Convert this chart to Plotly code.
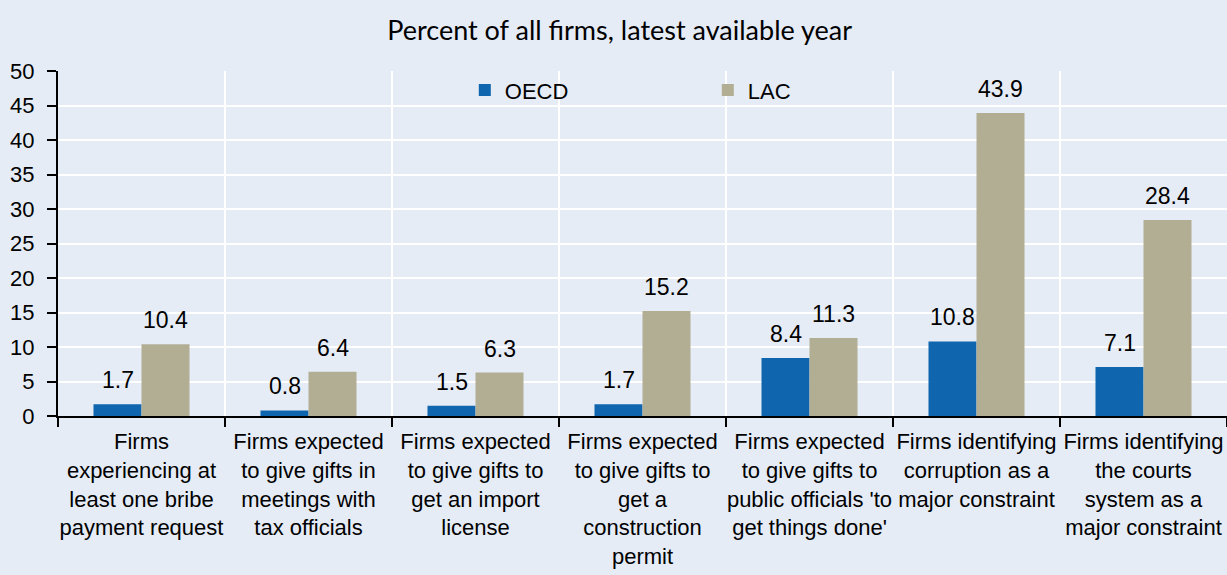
import plotly.graph_objects as go

categories = [
    "Firms<br>experiencing at<br>least one bribe<br>payment request",
    "Firms expected<br>to give gifts in<br>meetings with<br>tax officials",
    "Firms expected<br>to give gifts to<br>get an import<br>license",
    "Firms expected<br>to give gifts to<br>get a<br>construction<br>permit",
    "Firms expected<br>to give gifts to<br>public officials 'to<br>get things done'",
    "Firms identifying<br>corruption as a<br>major constraint",
    "Firms identifying<br>the courts<br>system as a<br>major constraint",
]
oecd = [1.7, 0.8, 1.5, 1.7, 8.4, 10.8, 7.1]
lac = [10.4, 6.4, 6.3, 15.2, 11.3, 43.9, 28.4]
y_ticks = list(range(0, 51, 5))

FONT = "Liberation Sans, Arial, sans-serif"
BG = "#e5ecf6"
C_OECD = "#0f66ae"
C_LAC = "#b2ae94"
BAR_HALF = 24  # px offset of each bar centre from category centre

fig = go.Figure()
fig.add_trace(go.Bar(name="OECD", x=categories, y=oecd, marker_color=C_OECD,
                     marker_line_width=0))
fig.add_trace(go.Bar(name="LAC", x=categories, y=lac, marker_color=C_LAC,
                     marker_line_width=0))

annotations = []
for series, shift in ((oecd, -BAR_HALF), (lac, BAR_HALF)):
    for c, v in zip(categories, series):
        annotations.append(dict(x=c, y=v, xref="x", yref="y", text=f"{v:.1f}",
                                showarrow=False, xshift=shift, yshift=24,
                                yanchor="middle",
                                font=dict(family=FONT, size=23, color="#000")))

fig.update_layout(
    width=1227, height=575,
    margin=dict(l=58, r=0, t=71, b=159),
    paper_bgcolor=BG, plot_bgcolor=BG,
    barmode="group", bargap=0.425, bargroupgap=0,
    title=dict(text="Percent of all firms, latest available year",
               font=dict(family="Lato, Open Sans, sans-serif", size=27, color="#000"),
               x=0.505, xanchor="center", y=0.947, yanchor="middle"),
    font=dict(family=FONT, size=22, color="#000"),
    legend=dict(orientation="h", x=0.348, xanchor="left", y=1.005, yanchor="top",
                bgcolor="rgba(0,0,0,0)", font=dict(family=FONT, size=22, color="#000"),
                entrywidth=198, entrywidthmode="pixels", itemwidth=30),
    annotations=annotations,
    showlegend=True,
)
fig.update_xaxes(
    type="category", tickson="boundaries", ticks="outside", ticklen=9,
    tickcolor="#000", tickwidth=2,
    showline=True, linecolor="#000", linewidth=2,
    showgrid=True, gridcolor="#ffffff", gridwidth=2,
    tickfont=dict(family=FONT, size=22, color="#000"),
    tickangle=0, ticklabelstandoff=5,
)
fig.update_yaxes(
    range=[0, 50], tickvals=y_ticks, ticks="outside", ticklen=9,
    tickcolor="#000", tickwidth=2,
    showline=True, linecolor="#000", linewidth=2,
    showgrid=True, gridcolor="#ffffff", gridwidth=2, zeroline=False,
    tickfont=dict(family=FONT, size=22, color="#000"),
    ticklabelstandoff=8,
)

fig.write_html("out.html", config={"displayModeBar": False},
               post_script="document.body.style.margin='0';document.body.style.overflow='hidden';")
